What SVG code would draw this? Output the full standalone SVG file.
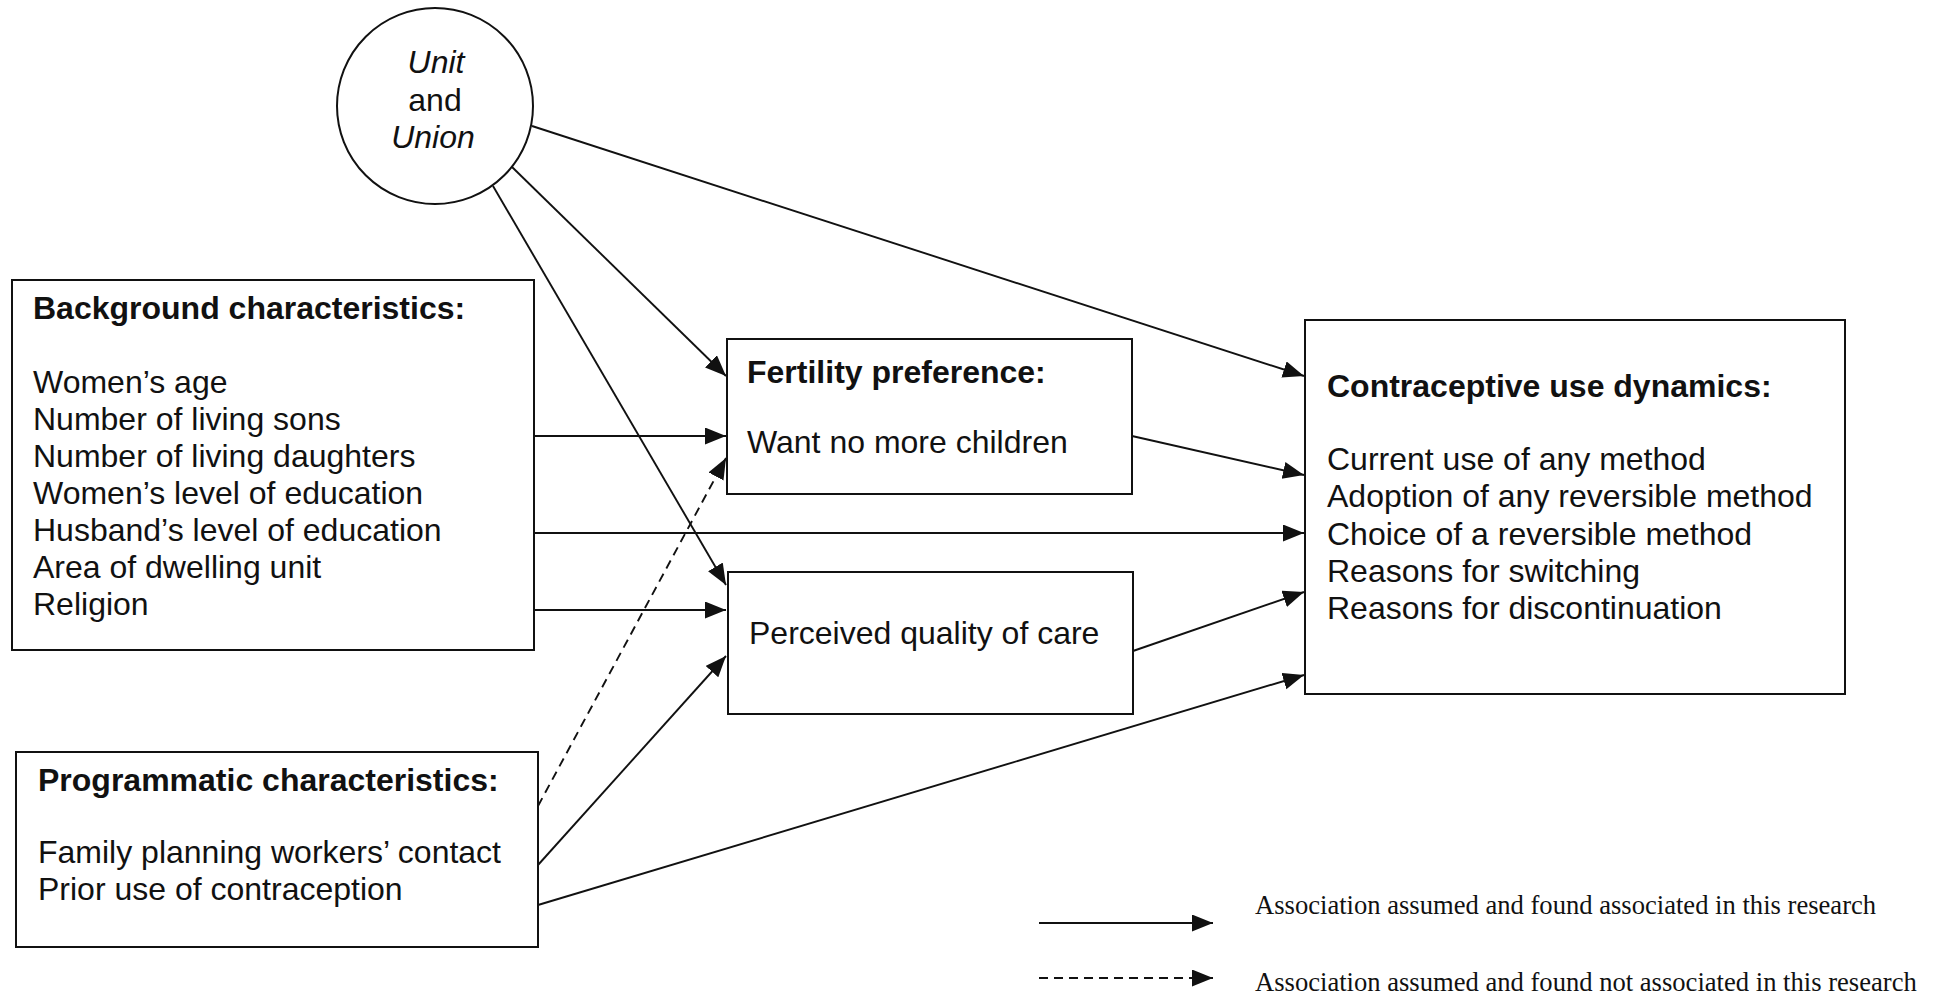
<svg xmlns="http://www.w3.org/2000/svg" width="1940" height="999" viewBox="0 0 1940 999">
<style>
.box{fill:#fff;stroke:#111;stroke-width:2}
.t{font-family:"Liberation Sans",Arial,sans-serif;font-size:32px;fill:#111}
.b{font-weight:bold}
.i{font-style:italic}
.c{stroke:#111;stroke-width:1.9;fill:none}
.d{stroke-dasharray:9 6}
.lg{font-family:"Liberation Serif","Times New Roman",serif;font-size:26.6px;fill:#111}
</style>
<defs>
<marker id="ah" markerUnits="userSpaceOnUse" markerWidth="22" markerHeight="18" refX="21" refY="8.5" orient="auto">
<path d="M0,0 L21,8.5 L0,17 z" fill="#111"/>
</marker>
</defs>
<rect width="1940" height="999" fill="#fff"/>
<g id="connectors">
<line class="c" x1="532" y1="126" x2="1304" y2="376" marker-end="url(#ah)"/>
<line class="c" x1="511" y1="166" x2="726" y2="376" marker-end="url(#ah)"/>
<line class="c" x1="493" y1="186" x2="726" y2="585" marker-end="url(#ah)"/>
<line class="c" x1="534" y1="436" x2="726" y2="436" marker-end="url(#ah)"/>
<line class="c" x1="534" y1="533" x2="1304" y2="533" marker-end="url(#ah)"/>
<line class="c" x1="534" y1="610" x2="726" y2="610" marker-end="url(#ah)"/>
<line class="c d" x1="538" y1="806" x2="726" y2="458" marker-end="url(#ah)"/>
<line class="c" x1="538" y1="865" x2="726" y2="656" marker-end="url(#ah)"/>
<line class="c" x1="538" y1="905" x2="1304" y2="675" marker-end="url(#ah)"/>
<line class="c" x1="1132" y1="436" x2="1304" y2="475" marker-end="url(#ah)"/>
<line class="c" x1="1133" y1="651" x2="1304" y2="592" marker-end="url(#ah)"/>
</g>
<g id="unit-union">
<circle class="box" cx="435" cy="106" r="98" stroke-width="1.6"/>
<text class="t i" x="436" y="73" text-anchor="middle">Unit</text>
<text class="t" x="435" y="111" text-anchor="middle">and</text>
<text class="t i" x="433" y="148" text-anchor="middle">Union</text>
</g>
<g id="background">
<rect class="box" x="12" y="280" width="522" height="370"/>
<text class="t b" x="33" y="319">Background characteristics:</text>
<text class="t" x="33" y="393">Women’s age</text>
<text class="t" x="33" y="430">Number of living sons</text>
<text class="t" x="33" y="467">Number of living daughters</text>
<text class="t" x="33" y="504">Women’s level of education</text>
<text class="t" x="33" y="541">Husband’s level of education</text>
<text class="t" x="33" y="578">Area of dwelling unit</text>
<text class="t" x="33" y="615">Religion</text>
</g>
<g id="programmatic">
<rect class="box" x="16" y="752" width="522" height="195"/>
<text class="t b" x="38" y="791">Programmatic characteristics:</text>
<text class="t" x="38" y="863">Family planning workers’ contact</text>
<text class="t" x="38" y="900">Prior use of contraception</text>
</g>
<g id="fertility">
<rect class="box" x="727" y="339" width="405" height="155"/>
<text class="t b" x="747" y="383">Fertility preference:</text>
<text class="t" x="747" y="453">Want no more children</text>
</g>
<g id="quality">
<rect class="box" x="728" y="572" width="405" height="142"/>
<text class="t" x="749" y="644">Perceived quality of care</text>
</g>
<g id="contraceptive">
<rect class="box" x="1305" y="320" width="540" height="374"/>
<text class="t b" x="1327" y="397">Contraceptive use dynamics:</text>
<text class="t" x="1327" y="470">Current use of any method</text>
<text class="t" x="1327" y="507">Adoption of any reversible method</text>
<text class="t" x="1327" y="545">Choice of a reversible method</text>
<text class="t" x="1327" y="582">Reasons for switching</text>
<text class="t" x="1327" y="619">Reasons for discontinuation</text>
</g>
<g id="legend">
<line class="c" x1="1039" y1="923" x2="1213" y2="923" marker-end="url(#ah)"/>
<line class="c d" x1="1039" y1="978" x2="1213" y2="978" marker-end="url(#ah)"/>
<text class="lg" x="1255" y="914">Association assumed and found associated in this research</text>
<text class="lg" x="1255" y="991">Association assumed and found not associated in this research</text>
</g>
</svg>
